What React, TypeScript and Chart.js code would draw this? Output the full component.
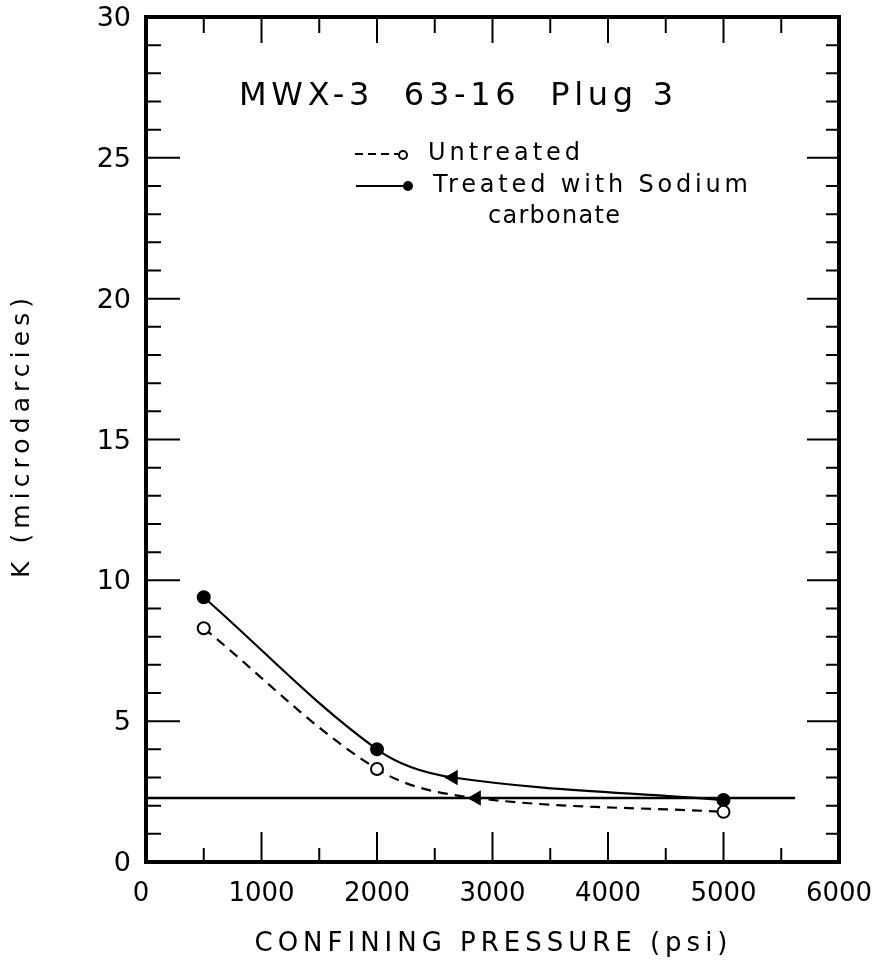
import React, { useEffect, useRef } from "react";
import { Chart, registerables } from "chart.js";

Chart.register(...registerables);

// Data
const treatedX = [500, 2000, 2660, 5000];
const treatedY = [9.4, 4.0, 3.0, 2.2];
const treatedStyle = ["circle", "circle", "triangle", "circle"];

const untreatedX = [500, 2000, 2860, 5000];
const untreatedY = [8.3, 3.3, 2.27, 1.78];
const untreatedStyle = ["circle", "circle", "triangle", "circle"];

const baseLineX = [0, 5620];
const baseLineY = [2.27, 2.27];

const xTickValues = [0, 1000, 2000, 3000, 4000, 5000, 6000];
const yTickValues = [0, 5, 10, 15, 20, 25, 30];

const titleText = "MWX-3  63-16  Plug 3";
const legendUntreated = "Untreated";
const legendTreated1 = "Treated with Sodium";
const legendTreated2 = "carbonate";
const xTitle = "CONFINING PRESSURE (psi)";
const yTitle = "K (microdarcies)";

const FONT = "'DejaVu Sans', sans-serif";

function fitText(ctx: any, text: string, x: number, y: number, width: number, align: "left" | "center") {
  ctx.letterSpacing = "0px";
  const base = ctx.measureText(text).width;
  const n = text.length;
  const ls = Math.max(0, (width - base) / Math.max(1, n - 1));
  ctx.letterSpacing = ls + "px";
  ctx.textAlign = "left";
  const startX = align === "center" ? x - width / 2 : x;
  ctx.fillText(text, startX, y);
  ctx.letterSpacing = "0px";
}

const framePlugin = {
  id: "framePlugin",
  afterDatasetsDraw(chart: any) {
    const { ctx, chartArea } = chart;
    const xs = chart.scales.x;
    const ys = chart.scales.y;
    const { left, right, top, bottom } = chartArea;
    ctx.save();
    ctx.strokeStyle = "#000";
    ctx.fillStyle = "#000";
    // tick marks (inside)
    ctx.lineWidth = 2;
    for (let v = 0; v <= 30; v += 1) {
      const y = ys.getPixelForValue(v);
      const major = v % 5 === 0;
      ctx.beginPath();
      ctx.moveTo(left, y);
      ctx.lineTo(left + (major ? 34 : 15), y);
      ctx.moveTo(right, y);
      ctx.lineTo(right - (major ? 32 : 13), y);
      ctx.stroke();
    }
    for (let v = 0; v <= 6000; v += 500) {
      const x = xs.getPixelForValue(v);
      const major = v % 1000 === 0;
      ctx.beginPath();
      ctx.moveTo(x, bottom);
      ctx.lineTo(x, bottom - (major ? 30 : 14));
      ctx.moveTo(x, top);
      ctx.lineTo(x, top + (major ? 26 : 16));
      ctx.stroke();
    }
    // frame
    ctx.lineWidth = 4;
    ctx.beginPath();
    ctx.moveTo(left, top);
    ctx.lineTo(right, top);
    ctx.lineTo(right, bottom);
    ctx.lineTo(left, bottom);
    ctx.closePath();
    ctx.stroke();

    // tick labels
    ctx.textBaseline = "middle";
    ctx.font = `26px ${FONT}`;
    ctx.textAlign = "center";
    for (const v of xTickValues) {
      ctx.fillText(String(v), xs.getPixelForValue(v) - (v === 0 ? 5 : 0), 894);
    }
    ctx.font = `27px ${FONT}`;
    ctx.textAlign = "right";
    for (const v of yTickValues) {
      ctx.fillText(String(v), 131, ys.getPixelForValue(v) + 2);
    }

    // axis titles
    ctx.font = `26px ${FONT}`;
    fitText(ctx, xTitle, 491, 944, 473, "center");
    ctx.save();
    ctx.translate(22, 438);
    ctx.rotate(-Math.PI / 2);
    ctx.font = `25px ${FONT}`;
    fitText(ctx, yTitle, 0, 0, 280, "center");
    ctx.restore();

    // title + legend
    ctx.font = `32px ${FONT}`;
    fitText(ctx, titleText, 239, 97, 434, "left");

    ctx.font = `24px ${FONT}`;
    // untreated legend
    ctx.lineWidth = 2;
    ctx.setLineDash([8, 5]);
    ctx.beginPath();
    ctx.moveTo(355, 154);
    ctx.lineTo(398, 154);
    ctx.stroke();
    ctx.setLineDash([]);
    ctx.beginPath();
    ctx.arc(403, 155, 4, 0, Math.PI * 2);
    ctx.fillStyle = "#fff";
    ctx.fill();
    ctx.stroke();
    ctx.fillStyle = "#000";
    fitText(ctx, legendUntreated, 428, 154, 152, "left");
    // treated legend
    ctx.beginPath();
    ctx.moveTo(356, 186);
    ctx.lineTo(404, 186);
    ctx.stroke();
    ctx.beginPath();
    ctx.arc(408, 186, 5, 0, Math.PI * 2);
    ctx.fill();
    fitText(ctx, legendTreated1, 433, 186, 315, "left");
    fitText(ctx, legendTreated2, 488, 217, 132, "left");
    ctx.restore();
  },
};

export default function App() {
  const ref = useRef<HTMLCanvasElement | null>(null);
  useEffect(() => {
    if (!ref.current) return;
    const chart = new Chart(ref.current, {
      type: "line",
      data: {
        datasets: [
          {
            label: "Baseline",
            data: baseLineX.map((x, i) => ({ x, y: baseLineY[i] })),
            borderColor: "#000",
            borderWidth: 2.5,
            pointRadius: 0,
            fill: false,
          },
          {
            label: "Untreated",
            data: untreatedX.map((x, i) => ({ x, y: untreatedY[i] })),
            borderColor: "#000",
            borderWidth: 2.2,
            borderDash: [10, 7],
            tension: 0.35,
            pointStyle: untreatedStyle as any,
            pointRotation: untreatedStyle.map((s) => (s === "triangle" ? 270 : 0)),
            pointRadius: untreatedStyle.map((s) => (s === "triangle" ? 7 : 6)),
            pointBackgroundColor: untreatedStyle.map((s) => (s === "triangle" ? "#000" : "#fff")),
            pointBorderColor: "#000",
            pointBorderWidth: 2,
            fill: false,
          },
          {
            label: "Treated with Sodium carbonate",
            data: treatedX.map((x, i) => ({ x, y: treatedY[i] })),
            borderColor: "#000",
            borderWidth: 2.2,
            tension: 0.35,
            pointStyle: treatedStyle as any,
            pointRotation: treatedStyle.map((s) => (s === "triangle" ? 270 : 0)),
            pointRadius: treatedStyle.map((s) => (s === "triangle" ? 7 : 6)),
            pointBackgroundColor: "#000",
            pointBorderColor: "#000",
            pointBorderWidth: 2,
            fill: false,
          },
        ],
      },
      options: {
        animation: false,
        responsive: false,
        maintainAspectRatio: false,
        layout: { padding: { left: 146, right: 48, top: 17, bottom: 106 } },
        plugins: { legend: { display: false }, tooltip: { enabled: false } },
        scales: {
          x: {
            type: "linear",
            min: 0,
            max: 6000,
            grid: { display: false, drawTicks: false },
            border: { display: false },
            ticks: { display: false },
          },
          y: {
            type: "linear",
            min: 0,
            max: 30,
            grid: { display: false, drawTicks: false },
            border: { display: false },
            ticks: { display: false },
          },
        },
      },
      plugins: [framePlugin],
    });
    return () => chart.destroy();
  }, []);
  return (
    <div style={{ position: "absolute", left: 0, top: 0, width: 887, height: 968, background: "#fff" }}>
      <canvas ref={ref} width={887} height={968} style={{ width: 887, height: 968 }} />
    </div>
  );
}
